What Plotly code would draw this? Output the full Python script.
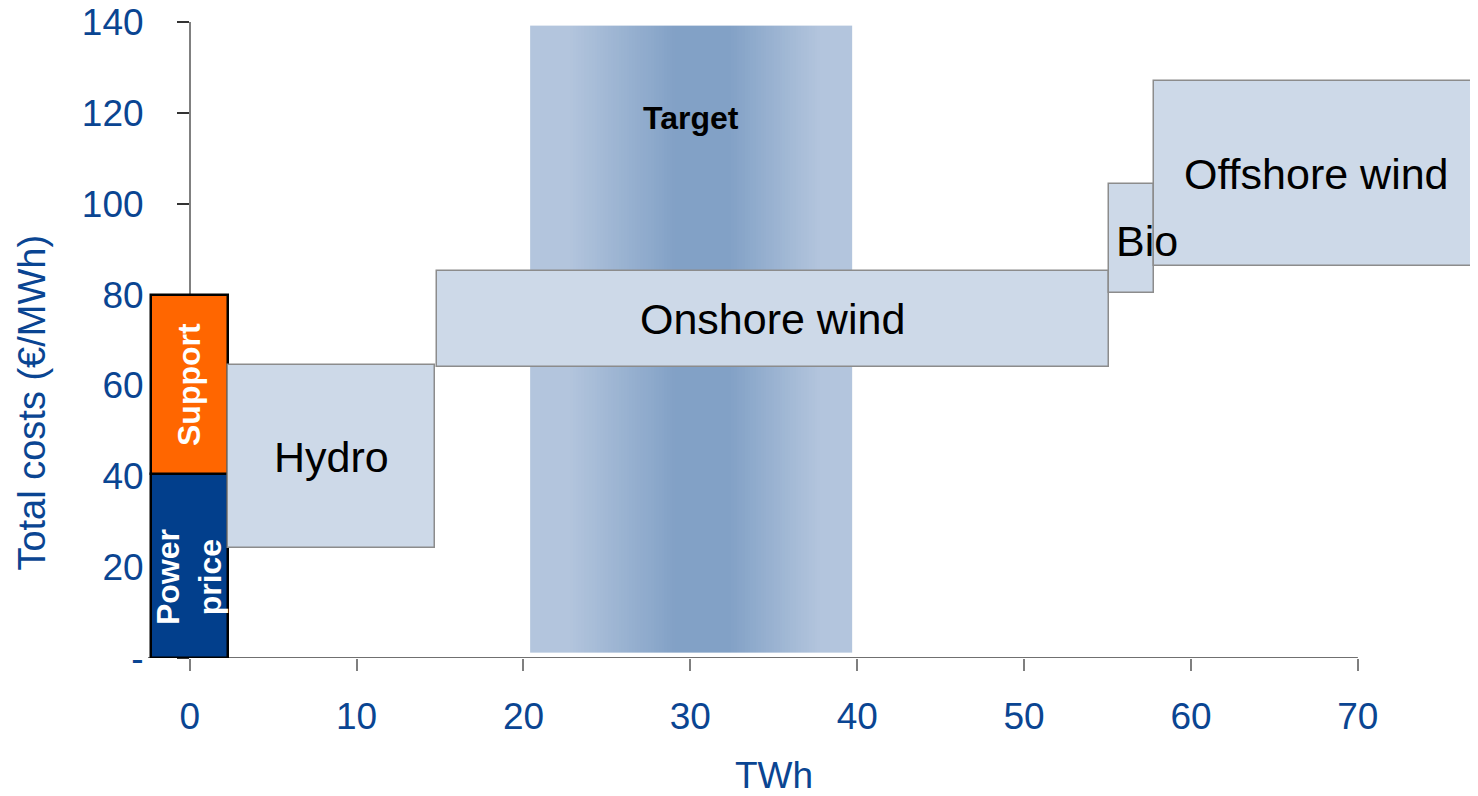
import plotly.graph_objects as go
import numpy as np

# ---- data ----
labels = ["Power price", "Support", "Hydro", "Onshore wind", "Bio", "Offshore wind"]
x_start = [-2.3, -2.3, 2.3, 14.8, 55.1, 57.8]
x_end = [2.3, 2.3, 14.7, 55.1, 57.8, 80.0]
y_low = [0.0, 40.5, 24.2, 64.0, 80.4, 86.3]
y_high = [40.5, 80.0, 64.5, 85.2, 104.4, 127.0]
target_x = [20.4, 39.7]
target_y = [1.1, 139.2]
x_ticks = [0, 10, 20, 30, 40, 50, 60, 70]
y_ticks = [0, 20, 40, 60, 80, 100, 120, 140]
y_ticktext = ["-", "20", "40", "60", "80", "100", "120", "140"]

# ---- styles ----
FONT = "Liberation Sans, Arial, sans-serif"
BLUE_TXT = "#0a4592"
fills = ["#023f8c", "#ff6600", "#cdd9e8", "#cdd9e8", "#cdd9e8", "#cdd9e8"]
edges = ["#000000", "#000000", "#8c8c8c", "#8c8c8c", "#8c8c8c", "#8c8c8c"]
edge_w = [2.5, 2.5, 1.5, 1.5, 1.5, 1.5]

fig = go.Figure()

# target gradient band
n = 120
tx = np.linspace(target_x[0], target_x[1], n + 1)
tz = [list((np.arange(n) + 0.5) / n)]
light, dark = "#b3c5dd", "#82a1c6"
fig.add_trace(go.Heatmap(
    x=tx, y=target_y, z=tz, zmin=0, zmax=1,
    colorscale=[[0, light], [0.12, light], [0.45, dark], [0.62, dark], [0.9, light], [1, light]],
    showscale=False, hoverinfo="skip"))

for i, lab in enumerate(labels):
    fig.add_trace(go.Bar(
        x=[(x_start[i] + x_end[i]) / 2], width=[x_end[i] - x_start[i]],
        base=[y_low[i]], y=[y_high[i] - y_low[i]],
        marker=dict(color=fills[i], line=dict(color=edges[i], width=edge_w[i])),
        showlegend=False, hoverinfo="skip", name=lab))

x_range = [-2.5, 77.2]

annotations = []
# box labels
for i in [2, 3, 5]:
    annotations.append(dict(
        x=(x_start[i] + min(x_end[i], x_range[1])) / 2, y=(y_low[i] + y_high[i]) / 2,
        xref="x", yref="y", text=labels[i], showarrow=False,
        font=dict(family=FONT, size=43, color="#000000")))
annotations.append(dict(
    x=x_start[4], y=(y_low[4] + y_high[4]) / 2 - 0.6, xref="x", yref="y",
    text=labels[4], showarrow=False, xanchor="left", xshift=5,
    font=dict(family=FONT, size=43, color="#000000")))
# rotated labels in stacked bar
annotations.append(dict(
    x=(x_start[1] + x_end[1]) / 2, y=(y_low[1] + y_high[1]) / 2, xref="x", yref="y",
    text="<b>Support</b>", showarrow=False, textangle=-90,
    font=dict(family=FONT, size=32, color="#ffffff")))
annotations.append(dict(
    x=(x_start[0] + x_end[0]) / 2, y=(y_low[0] + y_high[0]) / 2 - 2.5, xref="x", yref="y",
    text="<b>Power<br>price</b>", showarrow=False, textangle=-90,
    font=dict(family=FONT, size=32, color="#ffffff")))
# target label
annotations.append(dict(
    x=sum(target_x) / 2, y=118.9, xref="x", yref="y", text="<b>Target</b>",
    showarrow=False, font=dict(family=FONT, size=32, color="#000000")))
# axis titles
annotations.append(dict(
    x=(x_ticks[0] + x_ticks[-1]) / 2, y=-0.185, xref="x", yref="paper",
    yanchor="middle", xanchor="center",
    text="TWh", showarrow=False, font=dict(family=FONT, size=37, color=BLUE_TXT)))
annotations.append(dict(
    x=-0.087, y=0.402, xref="paper", yref="paper", text="Total costs (€/MWh)",
    xanchor="center", yanchor="middle",
    textangle=-90, showarrow=False, font=dict(family=FONT, size=38, color=BLUE_TXT)))

shapes = [dict(type="line", xref="x", yref="y", x0=x_range[0], x1=x_ticks[-1], y0=0, y1=0,
               line=dict(color="#404040", width=1.5), layer="below")]

fig.update_layout(
    width=1478, height=796,
    margin=dict(l=140, r=8, t=14, b=146, autoexpand=False),
    paper_bgcolor="white", plot_bgcolor="white",
    barmode="overlay", bargap=0,
    showlegend=False,
    font=dict(family=FONT, color=BLUE_TXT),
    annotations=annotations, shapes=shapes,
    xaxis=dict(range=x_range, tickvals=x_ticks, showgrid=False, zeroline=False,
               showline=False, ticks="outside", ticklen=12, tickcolor="#7f7f7f",
               tickwidth=1.5, tickfont=dict(size=37, color=BLUE_TXT),
               ticklabelstandoff=14, ticklabeloverflow="allow", automargin=False,
               fixedrange=True),
    yaxis=dict(range=[0, 140], tickvals=y_ticks, ticktext=y_ticktext,
               anchor="free", position=(0 - x_range[0]) / (x_range[1] - x_range[0]),
               showgrid=False, zeroline=False, showline=True, linecolor="#808080",
               linewidth=1.5, ticks="outside", ticklen=12, tickcolor="#333333",
               tickwidth=1.5, tickfont=dict(size=37, color=BLUE_TXT),
               ticklabelstandoff=26, ticklabeloverflow="allow", automargin=False,
               layer="below traces", fixedrange=True),
)

fig.write_html("out.html")
